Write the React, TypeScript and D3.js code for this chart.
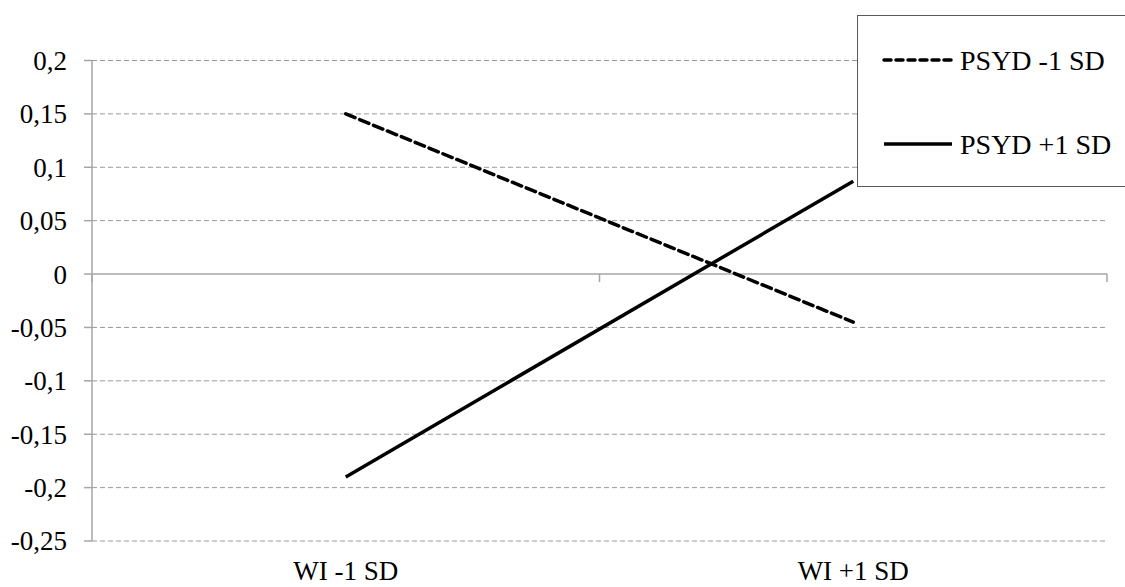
import React from 'react';
import * as d3 from 'd3';

// chart data
const categories = ['WI -1 SD', 'WI +1 SD'];
const seriesNames = ['PSYD -1 SD', 'PSYD +1 SD'];
const psydLow = [0.15, -0.045];
const psydHigh = [-0.19, 0.087];
const yTicks = [0.2, 0.15, 0.1, 0.05, 0, -0.05, -0.1, -0.15, -0.2, -0.25];

const W = 1125;
const H = 587;
const left = 92, right = 1107, top = 60.5, bottom = 541;
const font = '"Liberation Serif", "Times New Roman", serif';

const locale = d3.formatLocale({ decimal: ',', thousands: '.', grouping: [3], currency: ['', ''], minus: '-' });
const fmt = locale.format('~g');

export default function App() {
  const x = d3.scaleBand<string>().domain(categories).range([left, right]);
  const y = d3.scaleLinear().domain([-0.25, 0.2]).range([bottom, top]);
  const cx = (c: string) => (x(c) as number) + x.bandwidth() / 2;

  const line = d3.line<number>()
    .x((_, i) => cx(categories[i]))
    .y(d => y(d));

  const series = [
    { name: seriesNames[0], values: psydLow, dash: '10,5' },
    { name: seriesNames[1], values: psydHigh, dash: null },
  ];

  // x ticks at band edges
  const xTickPos = [left, ...categories.map(c => (x(c) as number) + x.bandwidth())];

  return (
    <svg width={W} height={H} style={{ position: 'absolute', left: 0, top: 0, background: '#fff' }}>
      {/* gridlines */}
      {yTicks.filter(t => t !== 0).map(t => (
        <line key={'g' + t} x1={left} x2={right} y1={y(t)} y2={y(t)}
          stroke="#9a9a9a" strokeWidth={1} strokeDasharray="5,3" />
      ))}
      {/* y axis */}
      <line x1={left} x2={left} y1={top} y2={bottom} stroke="#a6a6a6" strokeWidth={1.5} />
      {yTicks.map(t => (
        <g key={'t' + t}>
          <line x1={left - 8} x2={left} y1={y(t)} y2={y(t)} stroke="#a6a6a6" strokeWidth={1.5} />
          <text x={67} y={y(t)} dy="0.35em" textAnchor="end" fontFamily={font} fontSize={27} fill="#000">
            {fmt(t)}
          </text>
        </g>
      ))}
      {/* zero axis */}
      <line x1={left} x2={right} y1={y(0)} y2={y(0)} stroke="#a6a6a6" strokeWidth={1.5} />
      {xTickPos.map((p, i) => (
        <line key={'xt' + i} x1={p} x2={p} y1={y(0)} y2={y(0) + 8} stroke="#a6a6a6" strokeWidth={1.5} />
      ))}
      {categories.map(c => (
        <text key={c} x={cx(c)} y={580} textAnchor="middle" fontFamily={font} fontSize={27} fill="#000">{c}</text>
      ))}
      {/* series */}
      {series.map(s => (
        <path key={s.name} d={line(s.values) || ''} fill="none" stroke="#000" strokeWidth={3.5}
          strokeDasharray={s.dash || undefined} strokeLinecap={s.dash ? 'round' : 'butt'} />
      ))}
      {/* legend */}
      <rect x={857.5} y={15.5} width={300} height={171} fill="#fff" stroke="#595959" strokeWidth={1} />
      {series.map((s, i) => {
        const ly = i === 0 ? 60 : 144;
        return (
          <g key={'l' + s.name}>
            <line x1={884} x2={952} y1={ly} y2={ly} stroke="#000" strokeWidth={3.5}
              strokeDasharray={s.dash ? '7,5' : undefined} strokeLinecap={s.dash ? 'round' : 'butt'} />
            <text x={960} y={ly} dy="0.35em" fontFamily={font} fontSize={28} fill="#000">{s.name}</text>
          </g>
        );
      })}
    </svg>
  );
}
